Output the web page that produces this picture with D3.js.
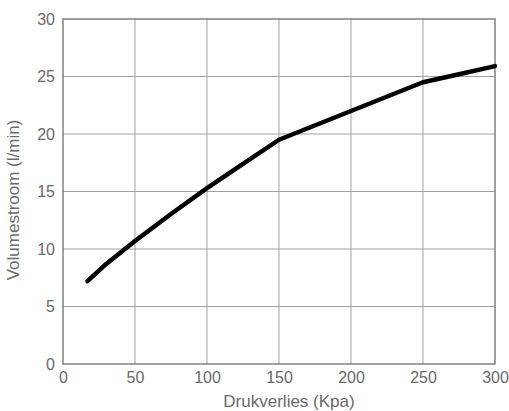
<!DOCTYPE html>
<html>
<head>
<meta charset="utf-8">
<script src="https://cdn.jsdelivr.net/npm/d3@7"></script>
<style>
  body { margin: 0; background: #fff; }
  svg { font-family: "Liberation Sans", Arial, sans-serif; }
</style>
</head>
<body>
<div id="chart"></div>
<script>
// druk (Kpa) tegen volumestroom (l/min)
var drukverlies = [17, 30, 50, 75, 100, 125, 150, 200, 250, 275, 300];
var volumestroom = [7.2, 8.7, 10.7, 13.05, 15.3, 17.4, 19.5, 22.0, 24.5, 25.2, 25.9];
var xTicks = [0, 50, 100, 150, 200, 250, 300];
var yTicks = [0, 5, 10, 15, 20, 25, 30];

var margin = {top: 19, right: 14, bottom: 47, left: 63};
var width = 509 - margin.left - margin.right,
    height = 411 - margin.top - margin.bottom;

var svg = d3.select('#chart').append('svg')
    .attr('width', 509)
    .attr('height', 411);

var g = svg.append('g')
    .attr('transform', 'translate(' + margin.left + ',' + margin.top + ')');

var x = d3.scaleLinear().domain([0, 300]).range([0, width]);
var y = d3.scaleLinear().domain([0, 30]).range([height, 0]);

// grid
g.selectAll('.vgrid').data(xTicks.slice(1, -1)).enter().append('line')
    .attr('x1', function (d) { return x(d); })
    .attr('x2', function (d) { return x(d); })
    .attr('y1', 0).attr('y2', height)
    .attr('stroke', '#a0a0a0').attr('stroke-width', 1);
g.selectAll('.hgrid').data(yTicks.slice(1, -1)).enter().append('line')
    .attr('x1', 0).attr('x2', width)
    .attr('y1', function (d) { return y(d); })
    .attr('y2', function (d) { return y(d); })
    .attr('stroke', '#a0a0a0').attr('stroke-width', 1);

// frame
g.append('rect')
    .attr('x', 0).attr('y', 0)
    .attr('width', width).attr('height', height)
    .attr('fill', 'none')
    .attr('stroke', '#808080').attr('stroke-width', 1.5);

var xAxis = d3.axisBottom(x).tickValues(xTicks).tickSize(0).tickPadding(8);
var yAxis = d3.axisLeft(y).tickValues(yTicks).tickSize(0).tickPadding(8);

var xg = g.append('g').attr('transform', 'translate(0,' + height + ')').call(xAxis);
var yg = g.append('g').call(yAxis);
[xg, yg].forEach(function (a) {
    a.select('.domain').remove();
    a.selectAll('text')
        .attr('fill', '#6a6a6a')
        .style('font-size', '16px')
        .style('font-family', '"Liberation Sans", Arial, sans-serif');
});

// line
var line = d3.line()
    .x(function (d, i) { return x(drukverlies[i]); })
    .y(function (d) { return y(d); });

g.append('path')
    .datum(volumestroom)
    .attr('d', line)
    .attr('fill', 'none')
    .attr('stroke', '#000')
    .attr('stroke-width', 4.5)
    .attr('stroke-linejoin', 'round')
    .attr('stroke-linecap', 'round');

// titles
svg.append('text')
    .attr('x', 289)
    .attr('y', 407)
    .attr('text-anchor', 'middle')
    .attr('fill', '#6a6a6a')
    .style('font-size', '17px')
    .text('Drukverlies (Kpa)');

svg.append('text')
    .attr('transform', 'translate(19,200) rotate(-90)')
    .attr('text-anchor', 'middle')
    .attr('fill', '#6a6a6a')
    .style('font-size', '17px')
    .text('Volumestroom (l/min)');
</script>
</body>
</html>
